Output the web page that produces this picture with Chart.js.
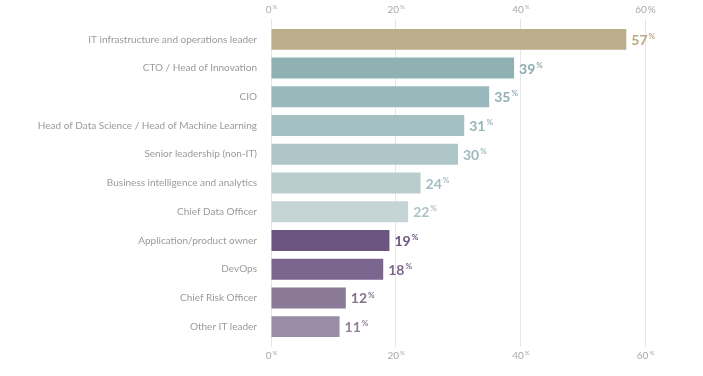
<!DOCTYPE html>
<html lang="en">
<head>
    <meta charset="UTF-8">
    <title>IT roles chart</title>
    <script src="https://cdn.jsdelivr.net/npm/chart.js"></script>
    <style>
        body { margin: 0; background: #fff; }
        #wrap { width: 703px; height: 376px; }
    </style>
</head>
<body>
    <div id="wrap"><canvas id="barChart"></canvas></div>

    <script>
        // Data
        const roles = [
            'IT infrastructure and operations leader',
            'CTO / Head of Innovation',
            'CIO',
            'Head of Data Science / Head of Machine Learning',
            'Senior leadership (non-IT)',
            'Business intelligence and analytics',
            'Chief Data Officer',
            'Application/product owner',
            'DevOps',
            'Chief Risk Officer',
            'Other IT leader'
        ];
        const shares = [57, 39, 35, 31, 30, 24, 22, 19, 18, 12, 11];
        const axisTicks = [0, 20, 40, 60];

        const barColors = [
            '#bcae8a', '#8fb1b4', '#99b8bb', '#a4c0c2', '#aec6c8', '#b9cdcf',
            '#c5d5d6', '#6b5580', '#7b6690', '#8a7a97', '#9a8ba6'
        ];
        const labelColors = [
            '#b8a981', '#8aadb0', '#8fb1b4', '#96b5b8', '#9cb9bc', '#a3bec0',
            '#abc3c5', '#6b5580', '#7b6690', '#84718f', '#8f7f9c'
        ];

        const FONT = 'Lato, "Open Sans", sans-serif';

        // draws "NN" with a small raised "%"
        function drawPct(ctx, num, x, y, size, bold, color, align, fullPct) {
            const w = bold ? 'bold ' : '';
            ctx.font = w + size + 'px ' + FONT;
            const nw = ctx.measureText(num).width;
            const ps = fullPct ? size : Math.round(size * 0.55);
            ctx.font = w + ps + 'px ' + FONT;
            const pw = ctx.measureText('%').width;
            let x0 = x;
            if (align === 'center') x0 = x - (nw + pw) / 2;
            ctx.fillStyle = color;
            ctx.textBaseline = 'middle';
            ctx.textAlign = 'left';
            ctx.font = w + size + 'px ' + FONT;
            ctx.fillText(num, x0, y);
            ctx.font = w + ps + 'px ' + FONT;
            ctx.fillText('%', x0 + nw + 1, fullPct ? y : y - size * 0.28);
        }

        const labelPlugin = {
            id: 'pctLabels',
            afterDatasetsDraw(chart) {
                const ctx = chart.ctx;
                const xs = chart.scales.x;
                ctx.save();
                // axis tick labels, top and bottom
                axisTicks.forEach(t => {
                    const px = xs.getPixelForValue(t);
                    drawPct(ctx, String(t), px, 10, 10, false, '#a9a9a9', 'center', t === 60);
                    drawPct(ctx, String(t), px, 356, 10, false, '#a9a9a9', 'center', false);
                });
                // value labels
                const meta = chart.getDatasetMeta(0);
                meta.data.forEach((bar, i) => {
                    drawPct(ctx, String(shares[i]), bar.x + 5, bar.y + 1, 14, true, labelColors[i], 'left', false);
                });
                ctx.restore();
            }
        };

        const gridStyle = { color: '#e6e6e6', lineWidth: 1, tickLength: 6, tickColor: '#e6e6e6' };

        const ctx = document.getElementById('barChart').getContext('2d');
        new Chart(ctx, {
            type: 'bar',
            data: {
                labels: roles,
                datasets: [{
                    data: shares,
                    backgroundColor: barColors,
                    borderWidth: 0,
                    barPercentage: 0.73,
                    categoryPercentage: 1
                }]
            },
            options: {
                indexAxis: 'y',
                responsive: true,
                maintainAspectRatio: false,
                animation: false,
                layout: { padding: { top: 19, bottom: 29, left: 0, right: 58 } },
                plugins: { legend: { display: false }, tooltip: { enabled: false } },
                scales: {
                    x: {
                        min: 0,
                        max: 60,
                        position: 'top',
                        border: { display: false },
                        grid: gridStyle,
                        ticks: { display: false, stepSize: 20 }
                    },
                    x2: {
                        min: 0,
                        max: 60,
                        position: 'bottom',
                        border: { display: false },
                        grid: Object.assign({ drawOnChartArea: false }, gridStyle),
                        ticks: { display: false, stepSize: 20 }
                    },
                    y: {
                        border: { display: false },
                        grid: { display: false },
                        afterFit(scale) { scale.width = 271; },
                        ticks: {
                            color: '#9a9a9a',
                            padding: 6,
                            font: { family: FONT, size: 10 }
                        }
                    }
                }
            },
            plugins: [labelPlugin]
        });
    </script>
</body>
</html>
